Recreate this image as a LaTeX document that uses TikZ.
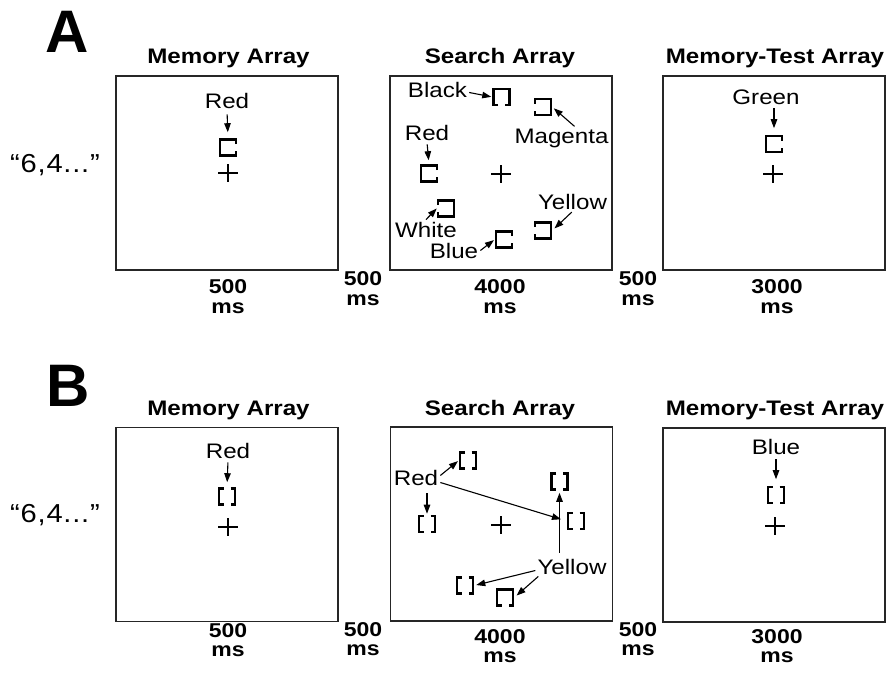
\documentclass[tikz,border=0pt]{standalone}
\usepackage{fontspec}
\setmainfont{Liberation Sans}[FakeStretch=1.15]
\newfontfamily\bigfont{Liberation Sans}
\newfontfamily\cuefont{Liberation Sans}[FakeStretch=1.12,LetterSpace=3]
\usetikzlibrary{arrows.meta}
\tikzset{
  frame/.style={draw=black!85, line width=1.6pt, minimum width=222pt, minimum height=194pt, inner sep=0pt, outer sep=0pt},
  lbl/.style={font=\fontsize{21}{24}\selectfont, inner sep=2pt, anchor=base},
  cue/.style={font=\cuefont\fontsize{26}{28}\selectfont, inner sep=1pt, anchor=base},
  ttl/.style={font=\bfseries\fontsize{21}{24}\selectfont, inner sep=1pt, anchor=base},
  tim/.style={font=\bfseries\fontsize{20}{22}\selectfont, inner sep=1pt, anchor=base},
  big/.style={font=\bigfont\bfseries\fontsize{60}{66}\selectfont, inner sep=0pt, anchor=base},
  arr/.style={line width=1.1pt, -{Triangle[length=9pt,width=6.5pt]}},
  sqn/.style={minimum size=18.6pt, inner sep=0pt, outer sep=0pt},
  sqline/.style={line width=2.8pt, line cap=butt, line join=miter},
  pls/.style={minimum width=20pt, minimum height=18pt, inner sep=0pt, outer sep=0pt},
  plusline/.style={line width=1.5pt}
}
% gapped squares: name, x, y
\newcommand{\gsqR}[3]{\node[sqn] (#1) at (#2,#3) {};
  \draw[sqline,shift={(#2,#3)}] (8,-3.5) -- (8,-8) -- (-8,-8) -- (-8,8) -- (8,8) -- (8,3.5);}
\newcommand{\gsqL}[3]{\node[sqn] (#1) at (#2,#3) {};
  \draw[sqline,shift={(#2,#3)}] (-8,-3.5) -- (-8,-8) -- (8,-8) -- (8,8) -- (-8,8) -- (-8,3.5);}
\newcommand{\gsqB}[3]{\node[sqn] (#1) at (#2,#3) {};
  \draw[sqline,shift={(#2,#3)}] (-3.5,8) -- (-8,8) -- (-8,-8) -- (8,-8) -- (8,8) -- (3.5,8);}
\newcommand{\gsqTB}[3]{\node[sqn] (#1) at (#2,#3) {};
  \draw[sqline,shift={(#2,#3)}] (-3.5,-8) -- (-8,-8) -- (-8,8) -- (-3.5,8)
                                 (3.5,-8) -- (8,-8) -- (8,8) -- (3.5,8);}
\newcommand{\fixcross}[3]{\node[pls] (#1) at (#2,#3) {};
  \draw[plusline] (#1.west) -- (#1.east) (#1.north) -- (#1.south);}
\begin{document}
\begin{tikzpicture}[x=1pt,y=-1pt]
\fill[white] (0,0) rectangle (894,675);
\useasboundingbox (0,0) rectangle (894,675);

% ---------------- Panel A ----------------
\node[big] (letA) at (67,52) {A};
\node[ttl] (tA1) at (228.5,63) {Memory Array};
\node[ttl] (tA2) at (500,63) {Search Array};
\node[ttl] (tA3) at (775,63) {Memory-Test Array};
\node[cue] (cueA) at (55,172) {“6,4...”};

\node[frame] (mA) at (227,173) {};
\node[frame] (sA) at (501,173) {};
\node[frame] (tA) at (774,173) {};

% memory array A
\node[lbl] (lRedM) at (227,108) {Red};
\gsqR{sqRedM}{228}{147.5}
\fixcross{fxMA}{228}{173}
\draw[arr, shorten <=4pt, shorten >=6pt] (lRedM.south) -- (sqRedM.north);

% search array A
\node[lbl] (lBlack) at (437.5,97) {Black};
\node[lbl] (lMag) at (561.5,143) {Magenta};
\node[lbl] (lRedS) at (427,140) {Red};
\node[lbl] (lWhite) at (426,237) {White};
\node[lbl] (lBlue) at (454,258) {Blue};
\node[lbl] (lYel) at (572.5,209) {Yellow};
\gsqB{sqBlack}{501.5}{97}
\gsqL{sqMag}{543}{107}
\gsqR{sqRedS}{429}{173.5}
\gsqL{sqWhite}{446}{208.5}
\gsqR{sqBlue}{504}{239.5}
\gsqL{sqYel}{543}{230.5}
\fixcross{fxSA}{501}{174}
\draw[arr, shorten >=1pt] ([yshift=-3pt]lBlack.east) -- (sqBlack.west);
\draw[arr, shorten >=2pt] ([xshift=13pt]lMag.north) -- (sqMag.east);
\draw[arr, shorten <=2pt, shorten >=4pt] (lRedS.south) -- (sqRedS.north);
\draw[arr] (lWhite.north) -- (sqWhite.west);
\draw[arr, shorten >=1pt] (lBlue.east) -- (sqBlue.west);
\draw[arr, shorten <=1pt, shorten >=3pt] (lYel.south) -- (sqYel.east);

% memory-test array A
\node[lbl] (lGreen) at (766,104) {Green};
\gsqR{sqGreen}{774}{144}
\fixcross{fxTA}{773}{174}
\draw[arr, shorten <=2pt, shorten >=6.5pt] (lGreen.south -| sqGreen.north) -- (sqGreen.north);

% timings A
\node[tim] (dA1a) at (228,293) {500};
\node[tim] (dA1b) at (228,313) {ms};
\node[tim] (dA2a) at (363,285) {500};
\node[tim] (dA2b) at (363,305) {ms};
\node[tim] (dA3a) at (500,293) {4000};
\node[tim] (dA3b) at (500,313) {ms};
\node[tim] (dA4a) at (638,285) {500};
\node[tim] (dA4b) at (638,305) {ms};
\node[tim] (dA5a) at (777,293) {3000};
\node[tim] (dA5b) at (777,313) {ms};

% ---------------- Panel B ----------------
\node[big] (letB) at (68,406) {B};
\node[ttl] (tB1) at (228.5,415) {Memory Array};
\node[ttl] (tB2) at (500,415) {Search Array};
\node[ttl] (tB3) at (775,415) {Memory-Test Array};
\node[cue] (cueB) at (55,522) {“6,4...”};

\node[frame] (mB) at (227,524.5) {};
\node[frame] (sB) at (501.5,524) {};
\node[frame] (tB) at (774,525) {};

% memory array B
\node[lbl] (lRedMB) at (228,458) {Red};
\gsqTB{brM}{227}{496.5}
\fixcross{fxMB}{228}{527}
\draw[arr, shorten <=2pt, shorten >=5pt] (lRedMB.south) -- (brM.north);

% search array B
\node[lbl] (lRedB) at (416,485) {Red};
\node[lbl] (lYelB) at (572,574) {Yellow};
\gsqTB{b1}{468}{460.5}
\gsqTB{b2}{427}{524}
\gsqTB{b3}{576}{521}
\gsqTB{b4}{559.5}{481.5}
\gsqTB{b5}{465}{585.5}
\gsqB{b6}{505}{597.5}
\fixcross{fxSB}{501}{525}
\draw[arr, shorten >=1pt] ([yshift=2pt]lRedB.east) -- (b1.west);
\draw[arr, shorten <=6pt, shorten >=1pt] (lRedB.south -| b2.north) -- (b2.north);
\draw[arr, shorten >=6pt] ([yshift=-5pt]lRedB.east) -- (b3.west);
\draw[arr, shorten <=4pt, shorten >=2pt] (lYelB.north -| b4.south) -- (b4.south);
\draw[arr, shorten >=2pt] ([yshift=-4pt]lYelB.west) -- (b5.east);
\draw[arr, shorten >=3pt] ([xshift=3pt]lYelB.south west) -- (b6.east);

% memory-test array B
\node[lbl] (lBlueT) at (776,454) {Blue};
\gsqTB{brT}{776}{495}
\fixcross{fxTB}{775}{526}
\draw[arr, shorten <=3pt, shorten >=6.5pt] (lBlueT.south) -- (brT.north);

% timings B
\node[tim] (dB1a) at (228,637) {500};
\node[tim] (dB1b) at (228,656) {ms};
\node[tim] (dB2a) at (363,636) {500};
\node[tim] (dB2b) at (363,655) {ms};
\node[tim] (dB3a) at (500,643) {4000};
\node[tim] (dB3b) at (500,662) {ms};
\node[tim] (dB4a) at (638,636) {500};
\node[tim] (dB4b) at (638,655) {ms};
\node[tim] (dB5a) at (777,643) {3000};
\node[tim] (dB5b) at (777,662) {ms};
\end{tikzpicture}
\end{document}
